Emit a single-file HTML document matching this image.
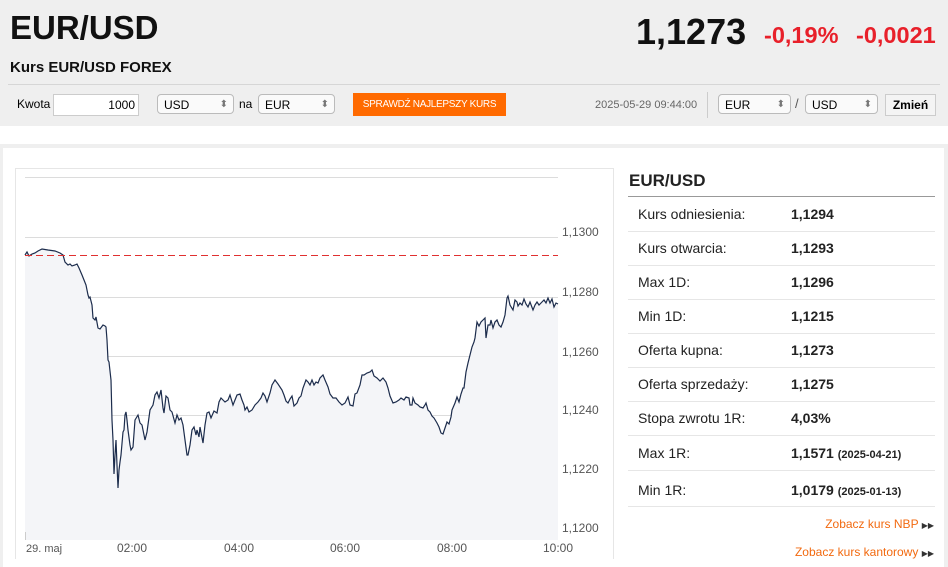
<!DOCTYPE html><html><head><meta charset="utf-8"><style>
html,body{margin:0;width:948px;height:567px;overflow:hidden}
body{background:#fff;font-family:"Liberation Sans",sans-serif;position:relative}
.a{position:absolute}
.hdr{left:0;top:0;width:948px;height:126px;background:#efefef}
.sel{position:absolute;height:20px;border:1px solid #bbb;border-radius:4px;background:#fafafa;font-size:12px;line-height:20px;padding-left:6px;box-sizing:border-box}
.sel:after{content:"⬍";position:absolute;right:5px;top:0;font-size:10px;color:#777}
.row{position:absolute;left:628px;width:307px;height:34px;border-bottom:1px solid #e6e6e6;font-size:14px;color:#222}
.row span{position:absolute;top:9px}
.row b{position:absolute;left:163px;top:9px;font-size:14px}
.row small{font-size:11px;font-weight:bold}
</style></head><body>
<div class="a hdr"></div>
<div class="a" style="left:10px;top:9px;font-size:33px;font-weight:bold;color:#111">EUR/USD</div>
<div class="a" style="left:10px;top:59px;font-size:15px;font-weight:bold;color:#111">Kurs EUR/USD FOREX</div>
<div class="a" style="left:636px;top:11px;font-size:36px;font-weight:bold;color:#111">1,1273</div>
<div class="a" style="left:764px;top:22px;font-size:23.5px;font-weight:bold;color:#e8202a">-0,19%</div>
<div class="a" style="left:856px;top:22px;font-size:23.5px;font-weight:bold;color:#e8202a">-0,0021</div>
<div class="a" style="left:8px;top:84px;width:932px;border-top:1px solid #d6d6d6"></div>
<div class="a" style="left:17px;top:97px;font-size:12px">Kwota</div>
<div class="a" style="left:53px;top:94px;width:86px;height:22px;background:#fff;border:1px solid #ccc;box-sizing:border-box;font-size:12px;text-align:right;line-height:20px;padding-right:3px">1000</div>
<div class="sel" style="left:157px;top:94px;width:77px">USD</div>
<div class="a" style="left:239px;top:97px;font-size:12px">na</div>
<div class="sel" style="left:258px;top:94px;width:77px">EUR</div>
<div class="a" style="left:353px;top:93px;width:153px;height:23px;background:#ff6a00;color:#fff;font-size:10px;letter-spacing:-0.3px;white-space:nowrap;line-height:23px;text-align:center">SPRAWDŹ NAJLEPSZY KURS</div>
<div class="a" style="left:595px;top:99px;font-size:11px;color:#666">2025-05-29 09:44:00</div>
<div class="a" style="left:707px;top:92px;height:26px;border-left:1px solid #ccc"></div>
<div class="sel" style="left:718px;top:94px;width:73px">EUR</div>
<div class="a" style="left:795px;top:96px;font-size:13px;color:#555">/</div>
<div class="sel" style="left:805px;top:94px;width:73px">USD</div>
<div class="a" style="left:885px;top:94px;width:51px;height:22px;background:#f4f4f4;border:1px solid #ccc;box-sizing:border-box;font-size:12px;font-weight:bold;text-align:center;line-height:20px">Zmień</div>
<div class="a" style="left:0;top:144px;width:948px;height:4px;background:#efefef"></div>
<div class="a" style="left:0;top:148px;width:3px;height:419px;background:#efefef"></div>
<div class="a" style="left:944px;top:148px;width:4px;height:419px;background:#efefef"></div>
<div class="a" style="left:15px;top:168px;width:597px;height:390px;border:1px solid #e6e6e6;border-bottom:none"></div>
<svg class="a" style="left:0;top:0" width="948" height="567">
<g stroke="#dcdcdc" stroke-width="1">
<line x1="25" x2="558" y1="177.5" y2="177.5"/><line x1="25" x2="558" y1="237.5" y2="237.5"/><line x1="25" x2="558" y1="297.5" y2="297.5"/><line x1="25" x2="558" y1="356.5" y2="356.5"/><line x1="25" x2="558" y1="415.5" y2="415.5"/><line x1="25" x2="558" y1="474.5" y2="474.5"/><line x1="25" x2="558" y1="532.5" y2="532.5"/>
</g>
<polygon id="f" fill="#f4f5f8" points=""/>
<polyline id="p" fill="none" stroke="#1c2c4c" stroke-width="1.2" points="25,255 27,252 29,256 32,254 35,253 38,251 42,249 48,250 55,251 60,253 63,255 65,262 68,265 70,264 72,266 75,265 77,264 79,268 82,275 84,280 86,285 88,295 89,298 90,297 92,305 93,318 95,320 96,317 98,328 100,329 103,325 105,326 106,327 107,340 108,360 109,362 111,380 112,420 113,440 114,474 115,455 116,440 117,465 118,488 119,470 120,462 121,455 123,432 124,430 125,415 126,412 127,420 128,430 130,445 131,450 133,447 135,420 138,415 140,423 142,425 145,440 147,432 150,410 153,405 155,395 157,392 159,398 161,390 163,408 164,413 166,396 168,398 170,410 172,412 175,423 177,415 179,420 181,418 183,425 185,440 187,455 188,455 190,445 192,430 194,427 196,435 197,430 199,437 200,427 203,443 205,425 207,413 209,412 211,418 214,411 217,413 219,402 221,398 225,402 228,400 230,395 233,405 235,400 237,395 240,394 242,400 244,405 245,410 247,407 249,412 252,410 255,405 258,402 261,398 263,393 265,396 267,402 270,393 272,385 275,380 278,384 282,390 284,395 286,401 288,403 290,399 292,396 294,406 297,403 299,398 301,396 303,388 306,380 308,382 310,385 312,380 314,385 316,382 318,383 320,378 323,375 325,380 328,387 330,394 333,398 336,398 339,402 342,405 345,403 348,397 350,405 353,406 355,394 357,393 360,385 362,375 364,375 367,373 370,372 372,370 374,376 377,378 380,381 383,378 386,382 388,388 390,396 393,403 396,402 399,400 401,398 404,400 406,397 409,398 410,405 412,405 413,398 415,403 418,405 420,407 423,408 425,405 426,403 428,410 430,412 432,416 434,418 437,423 439,427 441,433 443,434 445,428 447,422 449,424 451,417 452,410 455,403 457,397 459,402 461,394 463,388 464,388 466,372 468,363 470,355 472,347 474,342 475,338 477,322 479,326 481,322 483,320 485,318 486,338 488,325 490,325 491,320 493,328 495,322 497,320 499,325 501,327 503,322 505,315 507,298 508,296 510,305 513,310 515,300 517,302 518,306 520,303 522,305 524,299 526,304 528,307 530,302 533,310 535,305 537,302 539,305 541,303 544,300 546,303 548,298 550,303 552,299 554,307 556,303 558,304"/>
<line x1="25" x2="558" y1="255.5" y2="255.5" stroke="#e03030" stroke-width="1" stroke-dasharray="7,4"/>
<line x1="25.5" x2="25.5" y1="532" y2="540" stroke="#ccc"/>
<g font-family="Liberation Sans" font-size="12" fill="#555">
<text x="562" y="236">1,1300</text><text x="562" y="296">1,1280</text><text x="562" y="356">1,1260</text><text x="562" y="414">1,1240</text><text x="562" y="473">1,1220</text><text x="562" y="532">1,1200</text>
<text x="26" y="552" font-size="11">29. maj</text><text x="117" y="552">02:00</text><text x="224" y="552">04:00</text><text x="330" y="552">06:00</text><text x="437" y="552">08:00</text><text x="543" y="552">10:00</text>
</g>
</svg>
<script>var p=document.getElementById('p').getAttribute('points');document.getElementById('f').setAttribute('points',p+' 558,540 25,540');</script>
<div class="a" style="left:629px;top:171px;font-size:17px;font-weight:bold;color:#222">EUR/USD</div>
<div class="a" style="left:628px;top:196px;width:307px;border-top:1px solid #999"></div>
<div class="row" style="top:197px"><span style="left:10px">Kurs odniesienia:</span><b>1,1294</b></div>
<div class="row" style="top:231px"><span style="left:10px">Kurs otwarcia:</span><b>1,1293</b></div>
<div class="row" style="top:265px"><span style="left:10px">Max 1D:</span><b>1,1296</b></div>
<div class="row" style="top:299px"><span style="left:10px">Min 1D:</span><b>1,1215</b></div>
<div class="row" style="top:333px"><span style="left:10px">Oferta kupna:</span><b>1,1273</b></div>
<div class="row" style="top:367px"><span style="left:10px">Oferta sprzedaży:</span><b>1,1275</b></div>
<div class="row" style="top:401px"><span style="left:10px">Stopa zwrotu 1R:</span><b>4,03%</b></div>
<div class="row" style="top:436px"><span style="left:10px">Max 1R:</span><b>1,1571 <small>(2025-04-21)</small></b></div>
<div class="row" style="top:471px;height:35px"><span style="left:10px;top:11px">Min 1R:</span><b style="top:11px">1,0179 <small>(2025-01-13)</small></b></div>
<div class="a" style="right:14px;top:517px;font-size:12px;color:#f26a10">Zobacz kurs NBP <span style="font-size:8px;color:#333">▶▶</span></div>
<div class="a" style="right:14px;top:545px;font-size:12px;color:#f26a10">Zobacz kurs kantorowy <span style="font-size:8px;color:#333">▶▶</span></div>
</body></html>
